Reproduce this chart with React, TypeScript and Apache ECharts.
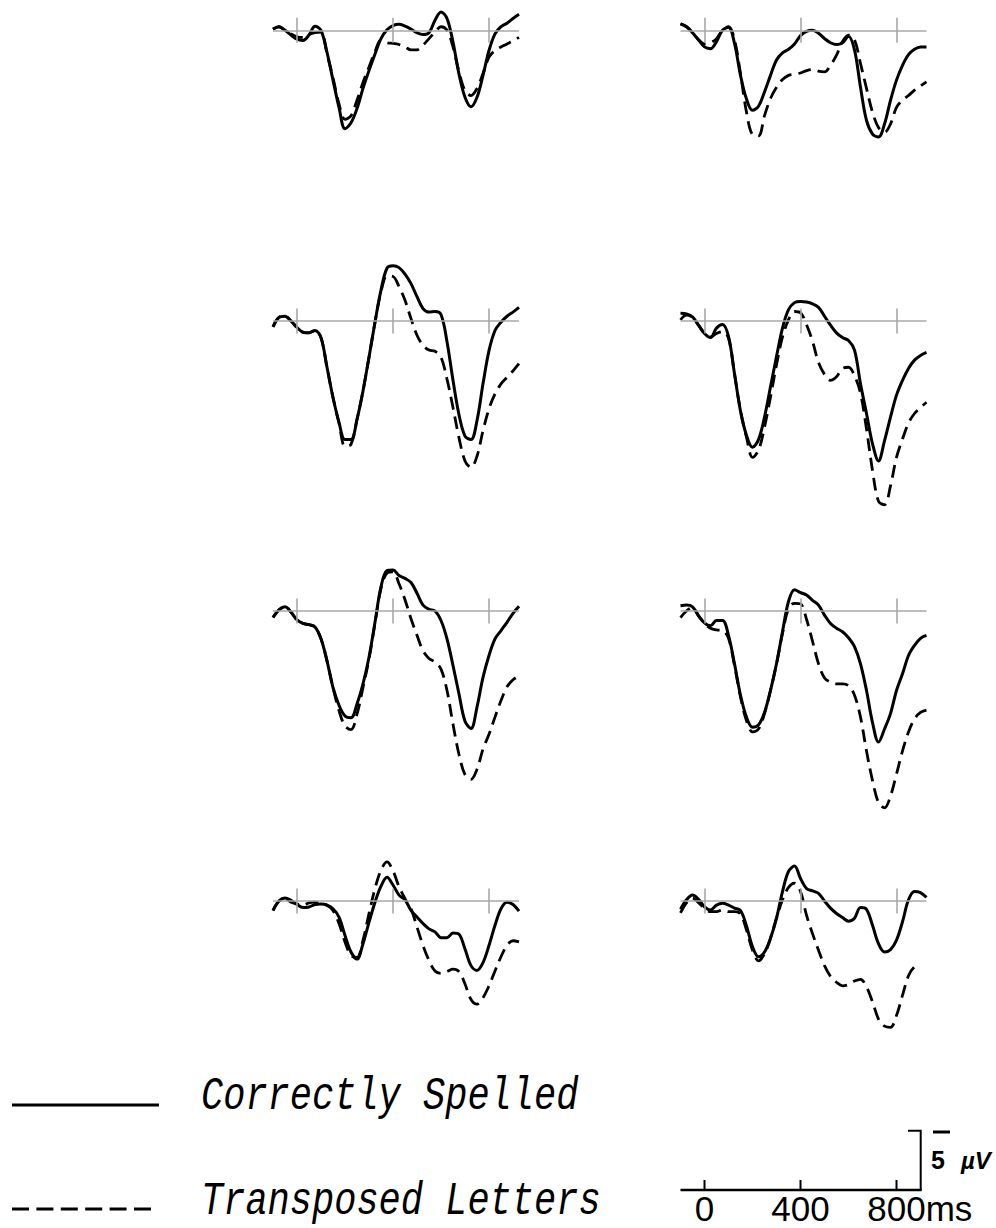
import React, { useEffect, useRef } from "react";
import * as echarts from "echarts";

// ---------------- data ----------------
const TIMES = [-100, -75, -50, -25, 0, 25, 50, 75, 100, 125, 150, 175, 200, 225, 250, 275, 300, 325, 350, 375, 400, 425, 450, 475, 500, 525, 550, 575, 600, 625, 650, 675, 700, 725, 750, 775, 800, 825, 850, 875, 900, 925];
const TICKS_MS = [0, 400, 800];
const SCALE_LABELS = ["0", "400", "800ms"];
const SCALE_UV = 5;
const LEGEND = ["Correctly Spelled", "Transposed Letters"];

// amplitudes in µV (negative plotted up)
const R1L_CORRECT = [-0.1, -0.3, 0, 0.4, 0.75, 0.85, 0.4, -0.35, 0, 1.85, 4.2, 6.5, 8.3, 7.8, 6.6, 4.9, 3.4, 2.0, 0.7, -0.05, -0.4, -0.5, -0.35, -0.1, 0.2, 0.35, 0.2, -0.85, -1.55, -1.0, 1.0, 3.7, 5.65, 6.45, 5.65, 3.8, 1.7, 0.3, -0.3, -0.6, -1.0, -1.35];
const R1L_TRANSPOSED = [-0.1, -0.3, 0, 0.3, 0.55, 0.6, 0.35, 0.2, 0.15, 2.0, 4.0, 6.2, 7.5, 7.2, 5.9, 4.4, 3.1, 1.8, 0.8, 1.05, 1.1, 1.2, 1.4, 1.65, 1.65, 1.25, 0.7, 0.15, -0.3, 0, 1.4, 3.5, 5.1, 5.5, 4.9, 3.65, 2.25, 1.7, 1.4, 1.15, 0.9, 0.6];
const R1R_CORRECT = [-0.55, -0.3, 0.2, 0.8, 1.4, 1.55, 0.95, 0, -0.25, 1.1, 3.8, 5.8, 6.75, 6.4, 5.2, 3.8, 2.5, 1.9, 1.6, 1.15, 0.45, 0.1, 0, 0.25, 0.7, 1.05, 1.2, 1.05, 0.5, 1.65, 4.8, 7.6, 8.75, 9.0, 7.9, 5.9, 4.2, 2.95, 2.05, 1.6, 1.4, 1.4];
const R1R_TRANSPOSED = [-0.55, -0.3, 0.2, 0.8, 1.15, 1.05, 0.7, 0, -0.3, 0.8, 3.65, 6.9, 8.8, 8.9, 7.2, 5.75, 4.8, 4.15, 3.8, 3.7, 3.6, 3.4, 3.3, 3.45, 3.5, 2.95, 2.1, 0.95, 0.4, 0.8, 2.8, 4.9, 6.9, 8.2, 8.6, 7.9, 6.5, 5.9, 5.5, 5.05, 4.7, 4.35];
const R2L_CORRECT = [0.5, -0.3, -0.4, 0, 0.55, 0.95, 1.0, 0.8, 1.4, 3.9, 6.45, 8.55, 10.0, 10.0, 8.3, 5.9, 3.05, 0.1, -2.6, -4.45, -4.65, -4.5, -3.95, -3.15, -2.05, -1.05, -0.75, -0.8, -0.55, 1.75, 5.0, 7.9, 9.7, 10.0, 8.4, 5.3, 2.5, 0.8, 0.1, -0.4, -0.75, -1.15];
const R2L_TRANSPOSED = [0.5, -0.3, -0.4, 0, 0.55, 0.95, 1.0, 0.8, 1.4, 3.9, 6.45, 8.6, 10.55, 10.4, 8.3, 5.9, 3.05, 0.1, -2.45, -3.8, -3.75, -2.9, -1.75, -0.2, 1.2, 2.05, 2.45, 2.55, 3.05, 4.9, 7.3, 9.85, 11.8, 12.35, 11.4, 9.25, 7.4, 6.15, 5.3, 4.75, 4.2, 3.6];
const R2R_CORRECT = [-0.65, -0.6, -0.35, 0.35, 1.05, 1.4, 0.6, 0.3, 1.3, 4.45, 7.6, 9.65, 10.65, 10.0, 8.1, 5.55, 3.0, 0.6, -0.95, -1.55, -1.65, -1.6, -1.45, -1.15, -0.4, 0.35, 1.0, 1.4, 1.65, 2.45, 5.3, 7.8, 10.35, 11.8, 10.1, 8.1, 6.25, 5.0, 4.0, 3.3, 2.9, 2.65];
const R2R_TRANSPOSED = [-0.1, -0.5, -0.3, 0.35, 1.05, 1.35, 1.05, 0.9, 1.45, 4.45, 7.55, 9.8, 11.5, 10.9, 8.95, 6.4, 3.7, 1.35, -0.1, -0.8, -0.7, 0.3, 1.7, 3.5, 4.5, 5.0, 4.7, 4.0, 3.9, 4.6, 6.1, 9.1, 12.6, 15.2, 15.5, 13.9, 11.5, 9.95, 8.6, 7.8, 7.3, 6.85];
const R3L_CORRECT = [0.55, -0.1, -0.35, 0.1, 0.75, 1.05, 1.15, 1.35, 2.35, 4.2, 6.45, 7.95, 8.85, 9.0, 7.85, 6.15, 3.9, 0.95, -2.05, -3.4, -3.45, -3.0, -2.75, -2.4, -1.5, -0.5, -0.15, 0, 0.8, 2.35, 4.6, 7.0, 9.3, 9.9, 8.1, 5.6, 3.75, 2.35, 1.65, 0.95, 0.2, -0.4];
const R3L_TRANSPOSED = [0.55, -0.1, -0.35, 0.1, 0.75, 1.05, 1.15, 1.35, 2.35, 4.2, 6.45, 8.4, 9.7, 10.0, 8.7, 6.45, 4.05, 1.05, -1.9, -3.2, -3.3, -2.3, -0.95, 0.65, 2.05, 3.35, 4.0, 4.3, 4.9, 6.7, 9.55, 12.1, 13.8, 14.2, 13.35, 11.65, 10.4, 8.95, 7.55, 6.4, 5.8, 5.45];
const R3R_CORRECT = [-0.45, -0.5, -0.35, 0.4, 1.0, 1.25, 0.8, 0.8, 2.05, 4.45, 7.1, 8.95, 9.8, 9.6, 8.55, 6.7, 4.45, 1.75, -0.8, -1.8, -1.55, -1.35, -0.9, -0.5, 0.35, 1.05, 1.45, 1.75, 2.25, 3.0, 4.45, 6.7, 9.4, 11.05, 9.95, 8.65, 6.7, 5.3, 3.75, 2.9, 2.3, 2.05];
const R3R_TRANSPOSED = [0.55, 0, -0.3, 0.4, 1.05, 1.45, 1.6, 1.65, 2.3, 4.6, 7.25, 9.25, 10.2, 9.95, 8.65, 6.7, 4.45, 1.9, -0.2, -0.65, -0.6, 0.7, 2.55, 4.45, 5.65, 6.0, 6.15, 6.15, 6.3, 7.1, 8.95, 11.8, 14.3, 16.15, 16.6, 15.6, 13.75, 11.8, 10.2, 9.1, 8.55, 8.35];
const R4L_CORRECT = [0.8, 0, -0.25, -0.05, 0.3, 0.55, 0.5, 0.3, 0.25, 0.35, 0.65, 1.35, 2.9, 4.3, 4.9, 3.6, 1.8, 0.1, -1.25, -2.0, -1.35, -0.5, -0.1, 0.8, 1.35, 1.9, 2.35, 2.6, 3.1, 3.1, 2.7, 2.8, 4.05, 5.45, 5.85, 5.2, 3.75, 2.05, 0.65, 0.1, 0.3, 0.85];
const R4L_TRANSPOSED = [0.8, 0, -0.2, 0.1, 0.25, 0.35, 0.15, 0.1, 0.25, 0.35, 0.8, 1.9, 3.45, 4.6, 4.75, 3.3, 1.05, -1.05, -2.6, -3.3, -2.55, -1.2, -0.2, 0.65, 2.2, 3.75, 5.0, 5.9, 6.1, 5.95, 5.75, 5.95, 7.0, 8.3, 8.7, 8.15, 7.15, 5.9, 4.7, 3.75, 3.35, 3.45];
const R4R_CORRECT = [0.7, -0.1, -0.5, -0.15, 0.5, 0.75, 0.35, 0.2, 0.35, 0.6, 0.8, 2.1, 3.85, 4.7, 4.3, 3.15, 1.45, -0.8, -2.5, -2.95, -1.9, -1.05, -0.85, -0.65, 0, 0.6, 1.05, 1.4, 1.7, 1.45, 0.55, 0.7, 2.05, 3.6, 4.3, 4.1, 3.3, 1.75, -0.1, -0.8, -0.7, -0.3];
const R4R_TRANSPOSED = [1.0, 0.15, -0.25, 0.15, 0.6, 0.9, 0.9, 0.75, 0.9, 0.9, 1.1, 2.45, 4.15, 5.05, 4.45, 3.15, 1.45, -0.1, -1.15, -1.5, -0.8, 1.2, 2.75, 4.15, 5.45, 6.35, 6.85, 7.15, 7.05, 6.75, 6.6, 7.25, 8.5, 9.95, 10.55, 10.65, 9.65, 7.95, 6.3, 5.55, 5.4, null];

const PANELS = [
  { row: 0, col: 0, correct: R1L_CORRECT, transposed: R1L_TRANSPOSED },
  { row: 0, col: 1, correct: R1R_CORRECT, transposed: R1R_TRANSPOSED },
  { row: 1, col: 0, correct: R2L_CORRECT, transposed: R2L_TRANSPOSED },
  { row: 1, col: 1, correct: R2R_CORRECT, transposed: R2R_TRANSPOSED },
  { row: 2, col: 0, correct: R3L_CORRECT, transposed: R3L_TRANSPOSED },
  { row: 2, col: 1, correct: R3R_CORRECT, transposed: R3R_TRANSPOSED },
  { row: 3, col: 0, correct: R4L_CORRECT, transposed: R4L_TRANSPOSED },
  { row: 3, col: 1, correct: R4R_CORRECT, transposed: R4R_TRANSPOSED },
];

// ---------------- layout ----------------
const W = 996;
const H = 1228;
const PX_PER_MS = 0.24;
const PX_PER_UV = 11.86;
const ZERO_X = [297, 704.5];
const BASE_Y = [30.3, 321, 611, 901];
const ROW_MIN = [-2.5, -6, -6, -6];
const ROW_MAX = [12, 17, 18, 14];
const T_MIN = -100;
const T_MAX = 925;
const SCALE_T_MAX = 905;
const SCALE_BASE_Y = 1190;

const INK = "#000";
const GRID_GRAY = "#a8a8a8";

function buildOption() {
  const grid: any[] = [];
  const xAxis: any[] = [];
  const yAxis: any[] = [];
  const series: any[] = [];

  PANELS.forEach((p, i) => {
    const zx = ZERO_X[p.col];
    grid.push({
      left: zx + T_MIN * PX_PER_MS,
      top: BASE_Y[p.row] + ROW_MIN[p.row] * PX_PER_UV,
      width: (T_MAX - T_MIN) * PX_PER_MS,
      height: (ROW_MAX[p.row] - ROW_MIN[p.row]) * PX_PER_UV,
      containLabel: false,
    });
    xAxis.push({ type: "value", gridIndex: i, min: T_MIN, max: T_MAX, show: false });
    yAxis.push({
      type: "value",
      gridIndex: i,
      min: ROW_MIN[p.row],
      max: ROW_MAX[p.row],
      inverse: true,
      show: false,
    });
    series.push({
      type: "line",
      xAxisIndex: i,
      yAxisIndex: i,
      data: [],
      z: 1,
      silent: true,
      markLine: {
        silent: true,
        symbol: ["none", "none"],
        label: { show: false },
        lineStyle: { color: GRID_GRAY, width: 1.6, type: "solid" },
        data: [
          [{ coord: [T_MIN, 0] }, { coord: [T_MAX, 0] }],
          ...TICKS_MS.map((t) => [{ coord: [t, -1.05] }, { coord: [t, 1.05] }]),
        ],
      },
    });
    series.push({
      type: "line",
      name: LEGEND[1],
      xAxisIndex: i,
      yAxisIndex: i,
      data: TIMES.map((t, k) => [t, p.transposed[k]]),
      showSymbol: false,
      smooth: 0.35,
      clip: false,
      connectNulls: false,
      z: 2,
      lineStyle: { color: INK, width: 2.8, type: [13, 7] },
    });
    series.push({
      type: "line",
      name: LEGEND[0],
      xAxisIndex: i,
      yAxisIndex: i,
      data: TIMES.map((t, k) => [t, p.correct[k]]),
      showSymbol: false,
      smooth: 0.35,
      clip: false,
      z: 3,
      lineStyle: { color: INK, width: 3 },
    });
  });

  const sx = (t: number) => ZERO_X[1] + t * PX_PER_MS;
  const labelFont = 35;
  const digitW = 0.556 * labelFont;

  const graphic: any[] = [
    // legend
    { type: "line", shape: { x1: 12, y1: 1105, x2: 159, y2: 1105 }, style: { stroke: INK, lineWidth: 3 } },
    { type: "line", shape: { x1: 12, y1: 1209, x2: 151, y2: 1209 }, style: { stroke: INK, lineWidth: 3, lineDash: [17, 7.4] } },
    {
      type: "text", x: 201, y: 1096.5, scaleY: 1.25,
      style: { text: LEGEND[0], font: 'italic 37px "Liberation Mono"', fill: INK, align: "left", textAlign: "left", verticalAlign: "middle", textVerticalAlign: "middle" },
    },
    {
      type: "text", x: 201, y: 1202, scaleY: 1.25,
      style: { text: LEGEND[1], font: 'italic 37px "Liberation Mono"', fill: INK, align: "left", textAlign: "left", verticalAlign: "middle", textVerticalAlign: "middle" },
    },
    // scale bar
    { type: "line", shape: { x1: sx(T_MIN), y1: SCALE_BASE_Y, x2: sx(SCALE_T_MAX), y2: SCALE_BASE_Y }, style: { stroke: INK, lineWidth: 2.5 } },
    ...TICKS_MS.map((t) => ({ type: "line", shape: { x1: sx(t), y1: SCALE_BASE_Y, x2: sx(t), y2: SCALE_BASE_Y - 10 }, style: { stroke: INK, lineWidth: 2 } })),
    {
      type: "polyline",
      shape: { points: [[908, SCALE_BASE_Y - SCALE_UV * PX_PER_UV], [sx(SCALE_T_MAX) - 1, SCALE_BASE_Y - SCALE_UV * PX_PER_UV], [sx(SCALE_T_MAX) - 1, SCALE_BASE_Y]] },
      style: { stroke: INK, lineWidth: 2, fill: null },
    },
    { type: "line", shape: { x1: 933, y1: 1132, x2: 950, y2: 1132 }, style: { stroke: INK, lineWidth: 3 } },
    {
      type: "text", x: 931, y: 1160,
      style: { text: String(SCALE_UV), font: 'bold 25px "Liberation Sans"', fill: INK, align: "left", textAlign: "left", verticalAlign: "middle", textVerticalAlign: "middle" },
    },
    {
      type: "text", x: 961, y: 1160,
      style: { text: "µV", font: 'italic bold 24px "Liberation Sans"', fill: INK, align: "left", textAlign: "left", verticalAlign: "middle", textVerticalAlign: "middle" },
    },
    ...TICKS_MS.map((t, i) => {
      const isLast = i === TICKS_MS.length - 1;
      const txt = SCALE_LABELS[i];
      return {
        type: "text",
        x: isLast ? sx(t) - 1.5 * digitW : sx(t),
        y: 1208.5,
        style: {
          text: txt,
          font: `${labelFont}px "Liberation Sans"`,
          fill: INK,
          align: isLast ? "left" : "center",
          textAlign: isLast ? "left" : "center",
          verticalAlign: "middle",
          textVerticalAlign: "middle",
        },
      };
    }),
  ];

  return {
    animation: false,
    backgroundColor: "#fff",
    grid,
    xAxis,
    yAxis,
    series,
    graphic,
  };
}

export default function App() {
  const ref = useRef<HTMLDivElement>(null);
  useEffect(() => {
    if (!ref.current) return;
    const chart = echarts.init(ref.current, undefined, { renderer: "svg" });
    chart.setOption(buildOption() as any);
    return () => chart.dispose();
  }, []);
  return (
    <div
      ref={ref}
      style={{ position: "absolute", left: 0, top: 0, width: W, height: H, background: "#fff" }}
    />
  );
}
